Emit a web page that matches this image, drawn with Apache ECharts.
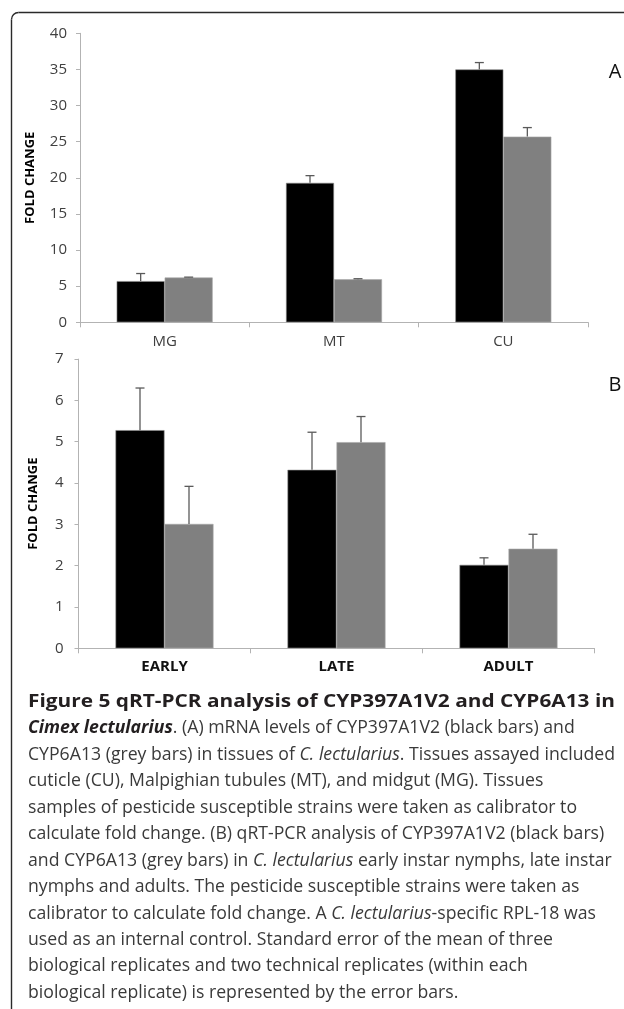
<!DOCTYPE html>
<html><head><meta charset="utf-8">
<script src="https://cdn.jsdelivr.net/npm/echarts@6/dist/echarts.min.js"></script>
<style>html,body{margin:0;padding:0;background:#fff}#c{width:624px;height:1009px}</style>
</head><body><div id="c"></div>
<script>
// ---- Data ----
const tissueCats = ['MG', 'MT', 'CU'];
const tissueCYP397 = [5.7, 19.3, 35.0];
const tissueCYP397Err = [1.05, 1.0, 0.95];
const tissueCYP6 = [6.2, 5.95, 25.7];
const tissueCYP6Err = [0.05, 0.08, 1.25];

const stageCats = ['EARLY', 'LATE', 'ADULT'];
const stageCYP397 = [5.28, 4.32, 2.02];
const stageCYP397Err = [1.02, 0.91, 0.17];
const stageCYP6 = [3.01, 4.99, 2.41];
const stageCYP6Err = [0.91, 0.62, 0.35];

const yAxisName = 'FOLD CHANGE';
const panelLabels = ['A', 'B'];

// caption lines: arrays of [styleKey, text]
const captionLines = [
  [['b', 'Figure 5 qRT-PCR analysis of CYP397A1V2 and CYP6A13 in']],
  [['bi', 'Cimex lectularius'], ['r', '. (A) mRNA levels of CYP397A1V2 (black bars) and']],
  [['r', 'CYP6A13 (grey bars) in tissues of '], ['i', 'C. lectularius'], ['r', '. Tissues assayed included']],
  [['r', 'cuticle (CU), Malpighian tubules (MT), and midgut (MG). Tissues']],
  [['r', 'samples of pesticide susceptible strains were taken as calibrator to']],
  [['r', 'calculate fold change. (B) qRT-PCR analysis of CYP397A1V2 (black bars)']],
  [['r', 'and CYP6A13 (grey bars) in '], ['i', 'C. lectularius'], ['r', ' early instar nymphs, late instar']],
  [['r', 'nymphs and adults. The pesticide susceptible strains were taken as']],
  [['r', 'calibrator to calculate fold change. A '], ['i', 'C. lectularius'], ['r', '-specific RPL-18 was']],
  [['r', 'used as an internal control. Standard error of the mean of three']],
  [['r', 'biological replicates and two technical replicates (within each']],
  [['r', 'biological replicate) is represented by the error bars.']]
];

// ---- Styling ----
const FONT = "'Open Sans', 'Noto Sans', sans-serif";
const CAP_FS = 18.5;
const capStyles = {
  r: { fontFamily: FONT, fontSize: CAP_FS, fontWeight: 'normal', fontStyle: 'normal', fill: '#3a3a3a' },
  i: { fontFamily: FONT, fontSize: CAP_FS, fontWeight: 'normal', fontStyle: 'italic', fill: '#3a3a3a' },
  b: { fontFamily: FONT, fontSize: CAP_FS, fontWeight: 'bold', fontStyle: 'normal', fill: '#231f20' },
  bi: { fontFamily: FONT, fontSize: CAP_FS, fontWeight: 'bold', fontStyle: 'italic', fill: '#231f20' }
};

const ctx = document.createElement('canvas').getContext('2d');
function segWidth(seg) {
  const s = capStyles[seg[0]];
  ctx.font = s.fontStyle + ' ' + s.fontWeight + ' ' + s.fontSize + 'px ' + s.fontFamily;
  return ctx.measureText(seg[1]).width;
}
function lineWidth(line) { return line.reduce((a, s) => a + segWidth(s), 0); }
const CAP_X = 28, CAP_RIGHT = 615;
const bodyScale = (CAP_RIGHT - CAP_X) / lineWidth(captionLines[2]);
const titleScale = (CAP_RIGHT - CAP_X) / lineWidth(captionLines[0]);

const capY0 = 701.7, capStep = 26.45;

const BW_A = 48, BW_B = 49;
const AXIS_C = '#b3b3b3';
const ERR_C = '#5a5a5a';

function errRender(side, bw) {
  return function (params, api) {
    const x = api.value(0), v = api.value(1), e = api.value(2);
    const base = api.coord([x, v]);
    const top = api.coord([x, v + e]);
    const cx = base[0] + side * bw / 2;
    return {
      type: 'group',
      children: [
        { type: 'line', shape: { x1: cx, y1: base[1], x2: cx, y2: top[1] }, style: { stroke: ERR_C, lineWidth: 1.3 } },
        { type: 'line', shape: { x1: cx - 4.5, y1: top[1], x2: cx + 4.5, y2: top[1] }, style: { stroke: ERR_C, lineWidth: 1.3 } }
      ]
    };
  };
}
function errData(vals, errs) { return vals.map((v, i) => [i, v, errs[i]]); }

function yAxisCfg(gridIndex, max, interval, gap, margin) {
  return {
    gridIndex, type: 'value', min: 0, max, interval,
    name: yAxisName, nameLocation: 'middle', nameGap: gap,
    nameTextStyle: { fontFamily: FONT, fontWeight: 'bold', fontSize: 13, color: '#000' },
    axisLine: { show: true, lineStyle: { color: AXIS_C, width: 1 } },
    axisTick: { show: true, length: 4, lineStyle: { color: AXIS_C } },
    axisLabel: { color: '#404040', fontFamily: FONT, fontSize: 15, margin },
    splitLine: { show: false }
  };
}
function xAxisCfg(gridIndex, cats, bold, margin) {
  return {
    gridIndex, type: 'category', data: cats,
    axisLine: { show: true, lineStyle: { color: AXIS_C, width: 1 } },
    axisTick: { show: true, length: 5, lineStyle: { color: AXIS_C } },
    axisLabel: { color: bold ? '#111' : '#404040', fontFamily: FONT, fontSize: 15, fontWeight: bold ? 'bold' : 'normal', margin }
  };
}

const blackStyle = { color: '#000', borderColor: '#8a8a8a', borderWidth: 0.6 };
const greyStyle = { color: '#808080', borderColor: '#a8a8a8', borderWidth: 0.6 };

const captionGraphics = captionLines.map((line, i) => {
  const text = line.map(s => '{' + s[0] + '|' + s[1] + '}').join('');
  return {
    type: 'text', x: CAP_X, y: capY0 + i * capStep,
    scaleX: i === 0 ? titleScale : bodyScale, scaleY: 1,
    style: { text, rich: capStyles, verticalAlign: 'middle', align: 'left', fontFamily: FONT, fontSize: CAP_FS },
    silent: true
  };
});

const FRAME_C = '#2a2a2a';
const option = {
  animation: false,
  backgroundColor: '#fff',
  grid: [
    { left: 80, right: 36, top: 33.3, height: 289 },
    { left: 78.5, right: 29.5, top: 359.1, height: 289.2 }
  ],
  xAxis: [xAxisCfg(0, tissueCats, false, 12), xAxisCfg(1, stageCats, true, 11)],
  yAxis: [yAxisCfg(0, 40, 5, 43, 13), yAxisCfg(1, 7, 1, 39, 15)],
  series: [
    { type: 'bar', name: 'CYP397A1V2', xAxisIndex: 0, yAxisIndex: 0, data: tissueCYP397, barWidth: BW_A, barGap: '0%', itemStyle: blackStyle },
    { type: 'bar', name: 'CYP6A13', xAxisIndex: 0, yAxisIndex: 0, data: tissueCYP6, barWidth: BW_A, barGap: '0%', itemStyle: greyStyle },
    { type: 'custom', xAxisIndex: 0, yAxisIndex: 0, renderItem: errRender(-1, BW_A), data: errData(tissueCYP397, tissueCYP397Err), encode: { x: 0, y: 1 }, z: 5 },
    { type: 'custom', xAxisIndex: 0, yAxisIndex: 0, renderItem: errRender(1, BW_A), data: errData(tissueCYP6, tissueCYP6Err), encode: { x: 0, y: 1 }, z: 5 },
    { type: 'bar', name: 'CYP397A1V2', xAxisIndex: 1, yAxisIndex: 1, data: stageCYP397, barWidth: BW_B, barGap: '0%', itemStyle: blackStyle },
    { type: 'bar', name: 'CYP6A13', xAxisIndex: 1, yAxisIndex: 1, data: stageCYP6, barWidth: BW_B, barGap: '0%', itemStyle: greyStyle },
    { type: 'custom', xAxisIndex: 1, yAxisIndex: 1, renderItem: errRender(-1, BW_B), data: errData(stageCYP397, stageCYP397Err), encode: { x: 0, y: 1 }, z: 5 },
    { type: 'custom', xAxisIndex: 1, yAxisIndex: 1, renderItem: errRender(1, BW_B), data: errData(stageCYP6, stageCYP6Err), encode: { x: 0, y: 1 }, z: 5 }
  ],
  graphic: [
    { type: 'line', shape: { x1: 11.5, y1: 19.5, x2: 11.5, y2: 1009 }, style: { stroke: FRAME_C, lineWidth: 1.4 }, silent: true },
    { type: 'line', shape: { x1: 18.5, y1: 12.5, x2: 624, y2: 12.5 }, style: { stroke: FRAME_C, lineWidth: 1.4 }, silent: true },
    { type: 'arc', shape: { cx: 18.5, cy: 19.5, r: 7, startAngle: Math.PI, endAngle: Math.PI * 1.5, clockwise: true }, style: { stroke: FRAME_C, lineWidth: 1.4, fill: null }, silent: true },
    { type: 'text', x: 615, y: 72.5, style: { text: panelLabels[0], fontFamily: FONT, fontSize: 20, fill: '#111', align: 'center', verticalAlign: 'middle' }, silent: true },
    { type: 'text', x: 615, y: 385, style: { text: panelLabels[1], fontFamily: FONT, fontSize: 20, fill: '#111', align: 'center', verticalAlign: 'middle' }, silent: true }
  ].concat(captionGraphics)
};

const chart = echarts.init(document.getElementById('c'), null, { renderer: 'canvas' });
chart.setOption(option);
</script>
</body></html>
